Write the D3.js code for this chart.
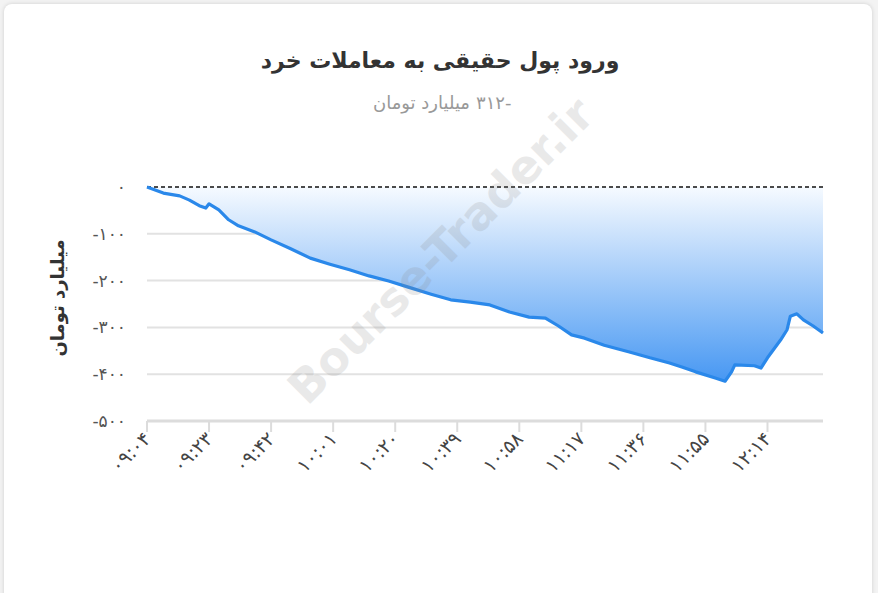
<!DOCTYPE html>
<html><head><meta charset="utf-8">
<script src="https://cdn.jsdelivr.net/npm/d3@7"></script>
<style>
body{margin:0;background:#f3f3f3;font-family:"DejaVu Sans","Noto Sans",sans-serif;}
#card{position:absolute;left:4px;top:4px;width:868px;height:600px;background:#fff;border-radius:8px;box-shadow:0 0 4px rgba(0,0,0,.15);}
</style></head><body>
<div id="card"></div>
<script>
// minutes after 09:04 and flow in billion toman
const minutes = [0,5,10,13,16,18,19,22,25,28,33,38,44,50,56,62,68,74,80,87,93,99,105,111,117,122,126,130,134,140,148,154,160,164,168,174,177,179,180,186,188,190,194,196,197,199,201,204,207];
const values = [0,-13,-19,-28,-40,-45,-36,-49,-70,-83,-96,-113,-132,-152,-165,-177,-190,-201,-214,-229,-241,-246,-252,-267,-278,-280,-297,-316,-323,-338,-353,-365,-376,-385,-395,-408,-415,-395,-380,-382,-387,-365,-327,-305,-276,-271,-284,-297,-312];
const tickMinutes = [0,19,38,57,76,95,114,133,152,171,190];
const tickLabels = ["۰۹:۰۴","۰۹:۲۳","۰۹:۴۲","۱۰:۰۱","۱۰:۲۰","۱۰:۳۹","۱۰:۵۸","۱۱:۱۷","۱۱:۳۶","۱۱:۵۵","۱۲:۱۴"];
const yTicks = [0,-100,-200,-300,-400,-500];
const yLabels = ["۰","-۱۰۰","-۲۰۰","-۳۰۰","-۴۰۰","-۵۰۰"];

const W = 878, H = 593;
const svg = d3.select("body").append("svg").attr("width", W).attr("height", H)
  .style("position","absolute").style("left",0).style("top",0);

const x = d3.scaleLinear().domain([0, 207]).range([147, 823]);
const y = d3.scaleLinear().domain([-500, 0]).range([421, 187]);

const grad = svg.append("defs").append("linearGradient").attr("id","g")
  .attr("gradientUnits","userSpaceOnUse").attr("x1",0).attr("x2",0).attr("y1",187).attr("y2",390);
grad.append("stop").attr("offset",0).attr("stop-color","#f6faff");
grad.append("stop").attr("offset",1).attr("stop-color","#3f93f2");

// title
svg.append("text").attr("x",440).attr("y",68).attr("text-anchor","middle")
  .attr("font-size",22).attr("font-weight","bold").attr("fill","#333").text("ورود پول حقیقی به معاملات خرد");
// subtitle in two parts so the number sits on the right
svg.append("text").attr("x",470).attr("y",109).attr("text-anchor","end")
  .attr("font-size",18).attr("fill","#999").text("میلیارد تومان");
svg.append("text").attr("x",476).attr("y",109).attr("text-anchor","start").attr("direction","ltr")
  .attr("font-size",18).attr("fill","#999").text("۳۱۲-");

// grid
svg.append("g").selectAll("line").data(yTicks.slice(1,5)).join("line")
  .attr("x1",147).attr("x2",823).attr("y1",d=>y(d)).attr("y2",d=>y(d))
  .attr("stroke","#e2e2e2").attr("stroke-width",2);
svg.append("line").attr("x1",147).attr("x2",823).attr("y1",y(-500)).attr("y2",y(-500))
  .attr("stroke","#dcdcdc").attr("stroke-width",3);

// y labels
svg.append("g").selectAll("text").data(yTicks).join("text")
  .attr("x",126).attr("y",d=>y(d)+6).attr("text-anchor","end").attr("direction","ltr")
  .attr("font-size",17).attr("fill","#555").text((d,i)=>yLabels[i]);
svg.append("text").attr("transform","translate(64,298) rotate(-90)").attr("text-anchor","middle")
  .attr("font-size",18).attr("font-weight","bold").attr("fill","#333").text("میلیارد تومان");

// x ticks
const xt = svg.append("g").selectAll("g").data(tickMinutes).join("g");
xt.append("line").attr("x1",d=>x(d)).attr("x2",d=>x(d)).attr("y1",421).attr("y2",432).attr("stroke","#dcdcdc").attr("stroke-width",2);
xt.append("text").attr("transform",d=>`translate(${x(d)+5},${440}) rotate(-45)`).attr("text-anchor","end")
  .attr("direction","ltr").attr("font-size",19).attr("fill","#444").text((d,i)=>tickLabels[i]);

const pts = minutes.map((m,i)=>[m, values[i]]);
svg.append("path").datum(pts).attr("fill","url(#g)")
  .attr("d", d3.area().x(d=>x(d[0])).y0(y(0)).y1(d=>y(d[1])));
svg.append("line").attr("x1",147).attr("x2",823).attr("y1",y(0)).attr("y2",y(0))
  .attr("stroke","#111").attr("stroke-width",1.5).attr("stroke-dasharray","4,3");
svg.append("path").datum(pts).attr("fill","none").attr("stroke","#2a88ea").attr("stroke-width",3.2)
  .attr("stroke-linejoin","round").attr("d", d3.line().x(d=>x(d[0])).y(d=>y(d[1])));

// watermark
svg.append("text").attr("transform","translate(452,262) rotate(-45)").attr("text-anchor","middle")
  .attr("font-size",46).attr("font-weight","bold").attr("fill","#888").attr("opacity",0.18).text("Bourse-Trader.ir");
</script></body></html>
